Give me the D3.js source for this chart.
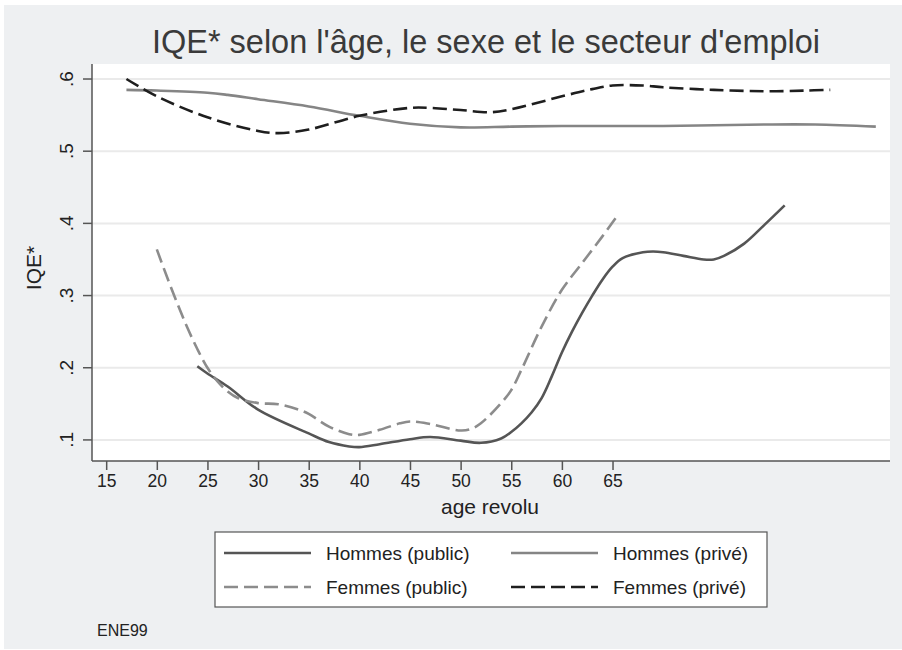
<!DOCTYPE html>
<meta charset="utf-8">
<style>
body { margin: 0; background: #fff; }
text { font-family: Arial, "Liberation Sans", Helvetica, sans-serif; fill: #222; }
.grid line { stroke: #eaeaea; stroke-width: 2; }
.axis path, .axis line { stroke: #555; stroke-width: 1.5; }
</style>
<body>
<script src="https://cdn.jsdelivr.net/npm/d3@7"></script>
<script>

// tick labels and axis ranges
var xTicks = [15, 20, 25, 30, 35, 40, 45, 50, 55, 60, 65];
var yTicks = [0.1, 0.2, 0.3, 0.4, 0.5, 0.6];

// Hommes (public)
var hPubAge = [24, 25, 27, 30, 35, 37, 39, 40, 42, 45, 47, 50, 52, 54, 55, 56, 57, 58, 59, 60, 61, 62, 63, 64, 65, 66, 68, 69, 70, 72, 74, 75, 76, 78, 80, 82];
var hPubVal = [0.202, 0.192, 0.174, 0.142, 0.109, 0.097, 0.091, 0.090, 0.094, 0.101, 0.104, 0.099, 0.096, 0.102, 0.111, 0.123, 0.138, 0.158, 0.188, 0.221, 0.250, 0.276, 0.300, 0.322, 0.340, 0.352, 0.360, 0.361, 0.360, 0.355, 0.350, 0.350, 0.355, 0.372, 0.398, 0.425];

// Hommes (privé)
var hPriAge = [17, 20, 25, 27, 30, 35, 40, 45, 50, 55, 60, 70, 80, 85, 91];
var hPriVal = [0.585, 0.584, 0.581, 0.578, 0.572, 0.562, 0.549, 0.538, 0.533, 0.534, 0.535, 0.535, 0.537, 0.537, 0.534];

// Femmes (public)
var fPubAge = [20, 21, 22, 23, 24, 25, 26, 27, 28, 30, 32, 34, 35, 37, 39, 40, 42, 44, 45, 47, 50, 51, 52, 54, 55, 56, 58, 60, 62, 64, 65.5];
var fPubVal = [0.364, 0.326, 0.290, 0.256, 0.226, 0.200, 0.181, 0.167, 0.158, 0.151, 0.1495, 0.142, 0.136, 0.1185, 0.108, 0.107, 0.114, 0.123, 0.1255, 0.122, 0.113, 0.115, 0.123, 0.151, 0.169, 0.197, 0.257, 0.308, 0.345, 0.382, 0.411];

// Femmes (privé)
var fPriAge = [17, 20, 25, 30, 32, 35, 40, 45, 47, 50, 53, 55, 60, 63, 65, 68, 70, 75, 80, 84, 86.5];
var fPriVal = [0.600, 0.576, 0.547, 0.528, 0.525, 0.530, 0.549, 0.560, 0.560, 0.557, 0.554, 0.558, 0.576, 0.586, 0.591, 0.591, 0.5885, 0.585, 0.583, 0.584, 0.585];

var seriesNames = ["Hommes (public)", "Hommes (privé)", "Femmes (public)", "Femmes (privé)"];
var seriesColors = ["#555555", "#858585", "#8c8c8c", "#1e1e1e"];
var seriesDash = [null, null, "14,6", "14,6"];

var series = [
  {name: seriesNames[0], ages: hPubAge, vals: hPubVal},
  {name: seriesNames[1], ages: hPriAge, vals: hPriVal},
  {name: seriesNames[2], ages: fPubAge, vals: fPubVal},
  {name: seriesNames[3], ages: fPriAge, vals: fPriVal}
];

var W = 902, H = 650;
var plot = {left: 92, right: 890, top: 64, bottom: 461};

var svg = d3.select("body").append("svg")
    .attr("width", W)
    .attr("height", H);

// grey background
svg.append("rect").attr("x", 4).attr("y", 5).attr("width", W - 4).attr("height", H - 6)
    .attr("fill", "#eef0f2");
svg.append("rect").attr("x", plot.left).attr("y", plot.top)
    .attr("width", plot.right - plot.left).attr("height", plot.bottom - plot.top)
    .attr("fill", "#fff");

var x = d3.scaleLinear().domain([13.6, 92.4]).range([plot.left, plot.right]);
var y = d3.scaleLinear().domain([0.0708, 0.6208]).range([plot.bottom, plot.top]);

// gridlines
svg.append("g").attr("class", "grid")
  .selectAll("line").data(yTicks).enter().append("line")
    .attr("x1", plot.left).attr("x2", plot.right)
    .attr("y1", function(d) { return y(d); })
    .attr("y2", function(d) { return y(d); });

// lines
var line = d3.line()
    .x(function(d) { return x(d[0]); })
    .y(function(d) { return y(d[1]); })
    .curve(d3.curveCatmullRom.alpha(0.5));

series.forEach(function(s, i) {
  svg.append("path")
      .datum(s.ages.map(function(a, j) { return [a, s.vals[j]]; }))
      .attr("fill", "none")
      .attr("stroke", seriesColors[i])
      .attr("stroke-width", 2.6)
      .attr("stroke-dasharray", seriesDash[i])
      .attr("d", line);
});

// axes
var fmt = function(d) { return d3.format(".1f")(d).replace(/^0/, ""); };

var yAxis = svg.append("g").attr("class", "axis")
    .attr("transform", "translate(" + plot.left + ",0)")
    .call(d3.axisLeft(y).tickValues(yTicks).tickFormat(fmt).tickSize(9).tickSizeOuter(0));
yAxis.select(".domain").attr("d", "M0," + plot.bottom + "V" + plot.top);
yAxis.selectAll("text")
    .attr("transform", function(d) { return "translate(-26," + y(d) + ") rotate(-90)"; })
    .attr("x", 0).attr("y", 0).attr("dy", "0.35em")
    .attr("text-anchor", "middle")
    .style("font-size", "19px").style("font-family", "Arial, 'Liberation Sans', sans-serif")
    .attr("fill", "#222");
yAxis.selectAll(".tick").attr("transform", null);
yAxis.selectAll(".tick line")
    .attr("y1", function(d) { return y(d); })
    .attr("y2", function(d) { return y(d); });

var xAxis = svg.append("g").attr("class", "axis")
    .attr("transform", "translate(0," + plot.bottom + ")")
    .call(d3.axisBottom(x).tickValues(xTicks).tickSize(9).tickSizeOuter(0));
xAxis.select(".domain").attr("d", "M" + plot.left + ",0H" + plot.right);
xAxis.selectAll("text")
    .attr("y", 14)
    .style("font-size", "17.5px").style("font-family", "Arial, 'Liberation Sans', sans-serif")
    .attr("fill", "#222");

// titles
svg.append("text").attr("x", 486).attr("y", 53)
    .attr("text-anchor", "middle").style("font-size", "32.5px").style("fill", "#3a3a3a")
    .text("IQE* selon l'âge, le sexe et le secteur d'emploi");
svg.append("text").attr("x", 490).attr("y", 514)
    .attr("text-anchor", "middle").style("font-size", "21px")
    .text("age revolu");
svg.append("text").attr("transform", "translate(41,268) rotate(-90)")
    .attr("text-anchor", "middle").style("font-size", "21px")
    .text("IQE*");
svg.append("text").attr("x", 97).attr("y", 636)
    .style("font-size", "16px")
    .text("ENE99");

// legend
var legend = svg.append("g");
legend.append("rect").attr("x", 215).attr("y", 532).attr("width", 552).attr("height", 75)
    .attr("fill", "#fff").attr("stroke", "#555").attr("stroke-width", 1.2);
var legPos = [[224, 553], [511, 553], [224, 587], [511, 587]];
series.forEach(function(s, i) {
  var p = legPos[i];
  legend.append("line")
      .attr("x1", p[0]).attr("x2", p[0] + 87)
      .attr("y1", p[1]).attr("y2", p[1])
      .attr("stroke", seriesColors[i]).attr("stroke-width", 2.6)
      .attr("stroke-dasharray", seriesDash[i]);
  legend.append("text").attr("x", p[0] + 102).attr("y", p[1]).attr("dy", "0.35em")
      .style("font-size", "19px").text(s.name);
});

</script>
</body>
